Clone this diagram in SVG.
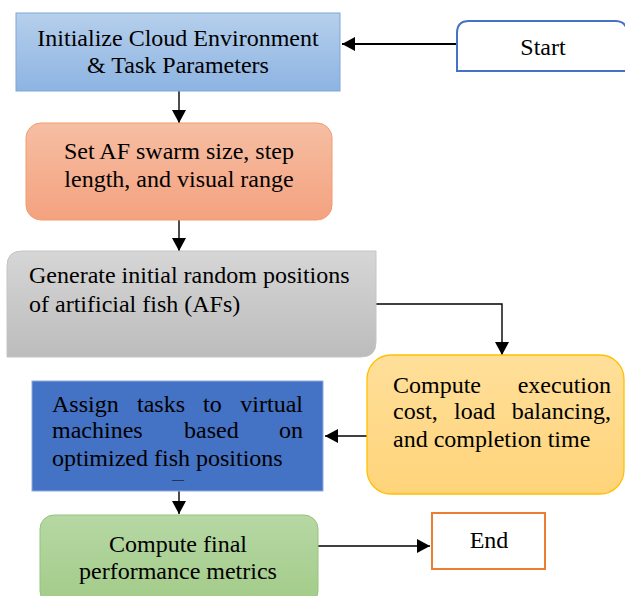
<svg xmlns="http://www.w3.org/2000/svg" width="625" height="596" viewBox="0 0 625 596">
<defs>
<marker id="ah" markerUnits="userSpaceOnUse" markerWidth="14" markerHeight="14" refX="13" refY="7" orient="auto">
<path d="M0,0 L13,7 L0,14 Z" fill="#000"/>
</marker>
<linearGradient id="gBlue" x1="0" y1="0" x2="0" y2="1"><stop offset="0" stop-color="#b6cfec"/><stop offset="1" stop-color="#8db4e2"/></linearGradient>
<linearGradient id="gOrange" x1="0" y1="0" x2="0" y2="1"><stop offset="0" stop-color="#f6bea3"/><stop offset="1" stop-color="#f4a27f"/></linearGradient>
<linearGradient id="gGray" x1="0" y1="0" x2="0" y2="1"><stop offset="0" stop-color="#d6d6d6"/><stop offset="1" stop-color="#bcbcbc"/></linearGradient>
<linearGradient id="gYellow" x1="0" y1="0" x2="0" y2="1"><stop offset="0" stop-color="#ffdf9a"/><stop offset="1" stop-color="#ffd47a"/></linearGradient>
<linearGradient id="gGreen" x1="0" y1="0" x2="0" y2="1"><stop offset="0" stop-color="#b6d8a4"/><stop offset="1" stop-color="#a2cb88"/></linearGradient>
</defs>

<g id="connectors" stroke="#000" stroke-width="1.4" fill="none">
<line x1="457" y1="44" x2="342" y2="44" stroke-width="2.2" marker-end="url(#ah)"/>
<line x1="179" y1="91" x2="179" y2="123" marker-end="url(#ah)"/>
<line x1="179" y1="220" x2="179" y2="251" marker-end="url(#ah)"/>
<polyline points="376,304 502,304 502,355" marker-end="url(#ah)"/>
<line x1="367" y1="436" x2="325" y2="436" marker-end="url(#ah)"/>
<line x1="179" y1="491" x2="179" y2="514" marker-end="url(#ah)"/>
<line x1="314" y1="546" x2="430" y2="546" marker-end="url(#ah)"/>
</g>

<g id="start">
<path d="M457,71 L457,33 Q457,21 469,21 L615,21 Q627,21 627,33 L627,71 Z" fill="#fff" stroke="#4472c4" stroke-width="2"/>
<text x="543" y="55" text-anchor="middle" style="font-family:'Liberation Serif','Times New Roman',serif;font-size:24px">Start</text>
</g>

<g id="init">
<rect x="16" y="13" width="324" height="78" fill="url(#gBlue)" stroke="#7fa7d8" stroke-width="1"/>
<text x="178" y="46" text-anchor="middle" style="font-family:'Liberation Serif','Times New Roman',serif;font-size:24px">Initialize Cloud Environment</text>
<text x="178" y="73" text-anchor="middle" style="font-family:'Liberation Serif','Times New Roman',serif;font-size:24px">&amp; Task Parameters</text>
</g>

<g id="setaf">
<rect x="26" y="123" width="306" height="97" rx="15" fill="url(#gOrange)" stroke="#f19c6e" stroke-width="1"/>
<text x="179" y="159" text-anchor="middle" style="font-family:'Liberation Serif','Times New Roman',serif;font-size:24px">Set AF swarm size, step</text>
<text x="179" y="187" text-anchor="middle" style="font-family:'Liberation Serif','Times New Roman',serif;font-size:24px">length, and visual range</text>
</g>

<g id="generate">
<path d="M7,357 L7,266 Q7,251 22,251 L376,251 L376,342 Q376,357 361,357 Z" fill="url(#gGray)" stroke="#c4c4c4" stroke-width="1"/>
<text x="29" y="283" style="font-family:'Liberation Serif','Times New Roman',serif;font-size:24px">Generate initial random positions</text>
<text x="29" y="312" style="font-family:'Liberation Serif','Times New Roman',serif;font-size:24px">of artificial fish (AFs)</text>
</g>

<g id="compute">
<rect x="367" y="355" width="257" height="139" rx="24" fill="url(#gYellow)" stroke="#ffc000" stroke-width="1.3"/>
<text x="393" y="393" style="font-family:'Liberation Serif','Times New Roman',serif;font-size:24px">Compute</text>
<text x="611" y="393" text-anchor="end" style="font-family:'Liberation Serif','Times New Roman',serif;font-size:24px">execution</text>
<text x="393" y="419" style="font-family:'Liberation Serif','Times New Roman',serif;font-size:24px">cost,</text>
<text x="454" y="419" style="font-family:'Liberation Serif','Times New Roman',serif;font-size:24px">load</text>
<text x="611" y="419" text-anchor="end" style="font-family:'Liberation Serif','Times New Roman',serif;font-size:24px">balancing,</text>
<text x="393" y="447" style="font-family:'Liberation Serif','Times New Roman',serif;font-size:24px">and completion time</text>
</g>

<g id="assign">
<rect x="32" y="381" width="291" height="110" fill="#4472c4" stroke="#8eaadb" stroke-width="1"/>
<text x="52" y="412" style="font-family:'Liberation Serif','Times New Roman',serif;font-size:24px">Assign</text>
<text x="137" y="412" style="font-family:'Liberation Serif','Times New Roman',serif;font-size:24px">tasks</text>
<text x="203" y="412" style="font-family:'Liberation Serif','Times New Roman',serif;font-size:24px">to</text>
<text x="303" y="412" text-anchor="end" style="font-family:'Liberation Serif','Times New Roman',serif;font-size:24px">virtual</text>
<text x="52" y="438" style="font-family:'Liberation Serif','Times New Roman',serif;font-size:24px">machines</text>
<text x="184" y="438" style="font-family:'Liberation Serif','Times New Roman',serif;font-size:24px">based</text>
<text x="303" y="438" text-anchor="end" style="font-family:'Liberation Serif','Times New Roman',serif;font-size:24px">on</text>
<text x="52" y="466" style="font-family:'Liberation Serif','Times New Roman',serif;font-size:24px">optimized fish positions</text>
<text x="178" y="483" text-anchor="middle" style="font-family:'Liberation Serif','Times New Roman',serif;font-size:12px">—</text>
</g>

<g id="final">
<rect x="40" y="515" width="278" height="90" rx="14" fill="url(#gGreen)" stroke="#93c47d" stroke-width="1"/>
<text x="178" y="552" text-anchor="middle" style="font-family:'Liberation Serif','Times New Roman',serif;font-size:24px">Compute final</text>
<text x="178" y="579" text-anchor="middle" style="font-family:'Liberation Serif','Times New Roman',serif;font-size:24px">performance metrics</text>
</g>

<g id="end">
<rect x="432" y="513" width="113" height="56" fill="#fff" stroke="#ed7d31" stroke-width="2"/>
<text x="489" y="548" text-anchor="middle" style="font-family:'Liberation Serif','Times New Roman',serif;font-size:24px">End</text>
</g>
</svg>
